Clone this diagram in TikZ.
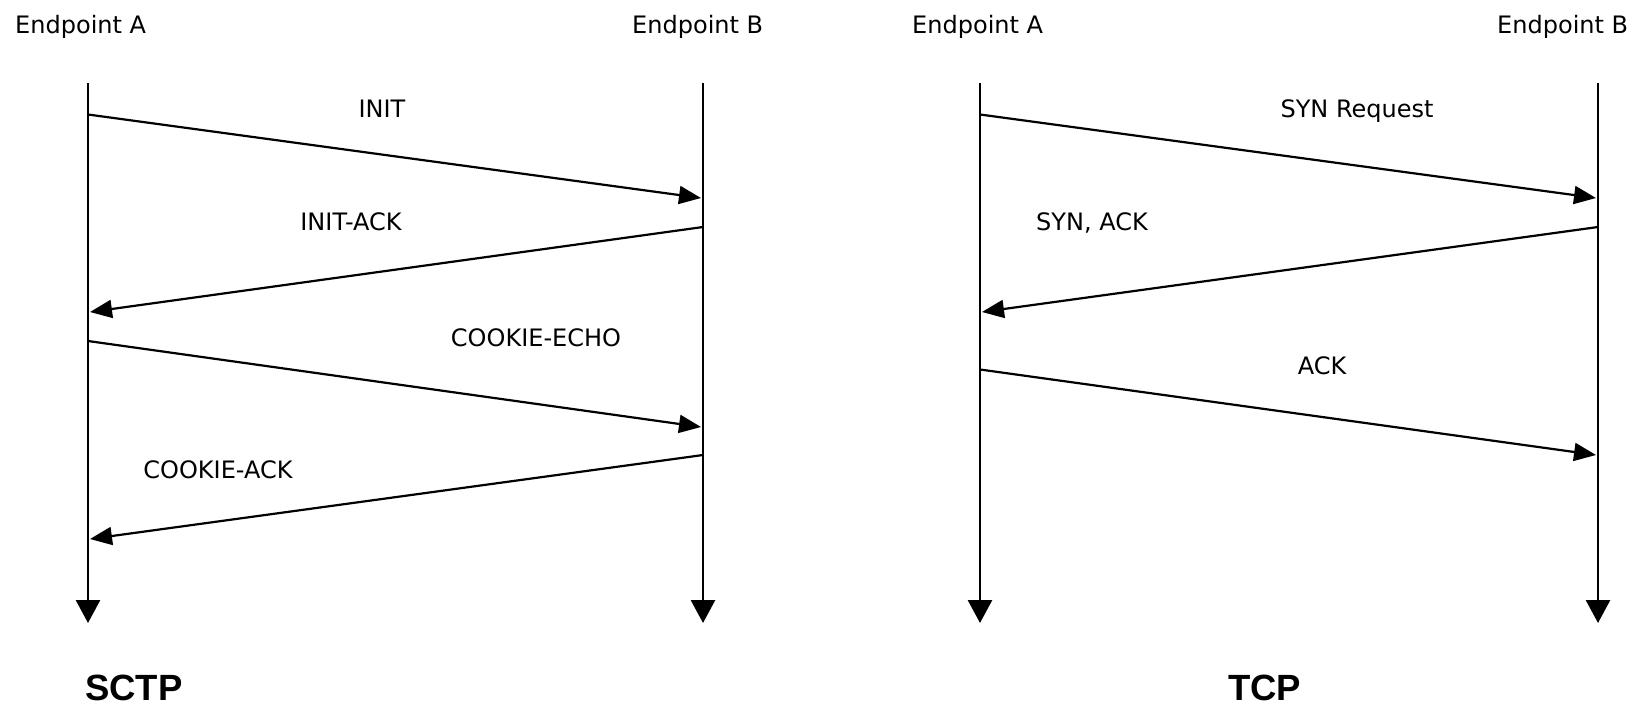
\documentclass[tikz,border=0pt]{standalone}
\usepackage{fontspec}
\setmainfont{DejaVu Sans}
\newfontfamily\protofont{Liberation Sans}
\usetikzlibrary{arrows.meta}
\begin{document}
\begin{tikzpicture}[x=1pt,y=-1pt,
  lifeline/.style={line width=2.8pt,-{Triangle[length=23pt,width=24pt]}},
  msg/.style={line width=2.2pt,-{Triangle[length=22pt,width=18pt]}},
  lbl/.style={font=\fontsize{24}{24}\selectfont,anchor=base,inner sep=0pt},
  head/.style={font=\fontsize{24}{24}\selectfont,anchor=base west,inner sep=0pt},
  proto/.style={font=\protofont\bfseries\fontsize{36.5}{36.5}\selectfont,anchor=base west,inner sep=0pt}]
\useasboundingbox (0,0) rectangle (1632,705);

% ---------------- SCTP ----------------
\node[head] (sa) at (15,33) {Endpoint A};
\node[head] (sb) at (632,33) {Endpoint B};
\coordinate (saTop) at (88,83);  \coordinate (saBot) at (88,623);
\coordinate (sbTop) at (703,83); \coordinate (sbBot) at (703,623);
\draw[lifeline] (saTop) -- (saBot);
\draw[lifeline] (sbTop) -- (sbBot);

\coordinate (s1a) at (88,114.5);  \coordinate (s1b) at (701,198);
\coordinate (s2b) at (703,227);   \coordinate (s2a) at (90,312);
\coordinate (s3a) at (88,341);    \coordinate (s3b) at (701,427);
\coordinate (s4b) at (703,455);   \coordinate (s4a) at (90,539);
\draw[msg] (s1a) -- (s1b);
\draw[msg] (s2b) -- (s2a);
\draw[msg] (s3a) -- (s3b);
\draw[msg] (s4b) -- (s4a);
\node[lbl] (l1) at (382,117) {INIT};
\node[lbl] (l2) at (351,230) {INIT-ACK};
\node[lbl] (l3) at (536,346) {COOKIE-ECHO};
\node[lbl] (l4) at (218,478) {COOKIE-ACK};
\node[proto] (sctp) at (85,700) {SCTP};

% ---------------- TCP ----------------
\node[head] (ta) at (912,33) {Endpoint A};
\node[head] (tb) at (1497,33) {Endpoint B};
\coordinate (taTop) at (980,83);  \coordinate (taBot) at (980,623);
\coordinate (tbTop) at (1598,83); \coordinate (tbBot) at (1598,623);
\draw[lifeline] (taTop) -- (taBot);
\draw[lifeline] (tbTop) -- (tbBot);

\coordinate (t1a) at (980,114.5);  \coordinate (t1b) at (1596,198);
\coordinate (t2b) at (1598,227);   \coordinate (t2a) at (982,312);
\coordinate (t3a) at (980,369.5);  \coordinate (t3b) at (1596,455);
\draw[msg] (t1a) -- (t1b);
\draw[msg] (t2b) -- (t2a);
\draw[msg] (t3a) -- (t3b);
\node[lbl] (m1) at (1357,117) {SYN Request};
\node[lbl] (m2) at (1092,230) {SYN, ACK};
\node[lbl] (m3) at (1322,374) {ACK};
\node[proto] (tcp) at (1228,700) {TCP};
\end{tikzpicture}
\end{document}
